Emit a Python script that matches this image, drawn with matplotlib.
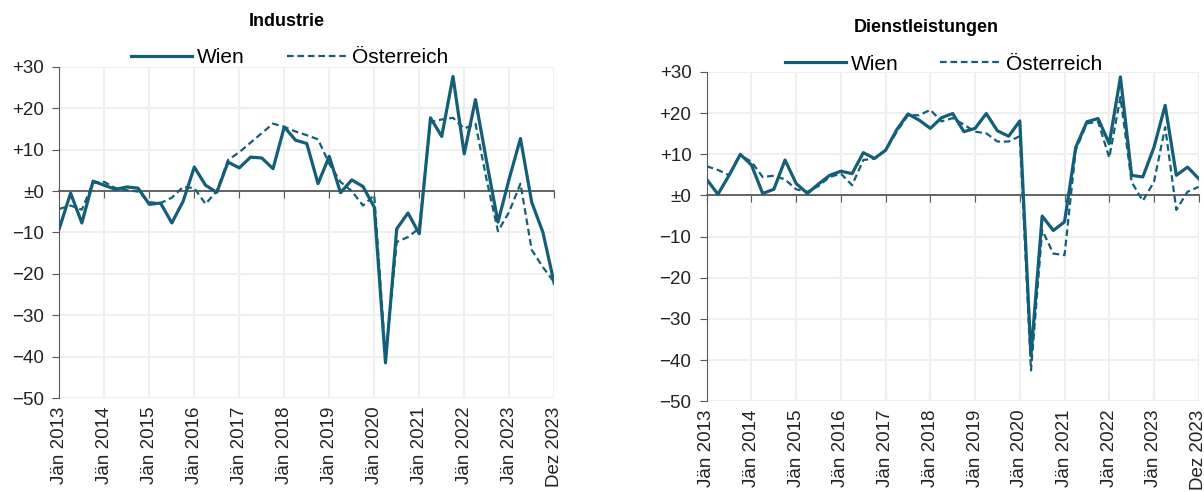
import matplotlib
matplotlib.use("Agg")
import matplotlib.pyplot as plt
import numpy as np

plt.rcParams['font.family'] = ['Liberation Sans', 'DejaVu Sans']

# quarterly values, Jän 2013 .. Dez 2023 (45 points)
ind_wien = [-9.0, -0.5, -7.7, 2.4, 1.4, 0.4, 1.0, 0.7, -3.2, -2.9, -7.7, -2.5, 5.8, 1.4, -0.3,
            7.0, 5.6, 8.2, 8.0, 5.4, 15.5, 12.3, 11.5, 1.8, 8.4, -0.4, 2.7, 1.1, -3.9,
            -41.5, -9.1, -5.3, -10.3, 17.7, 13.2, 27.7, 9.0, 22.1, 7.0, -7.5, 3.0, 12.7, -2.7, -10.0, -22.3]
ind_at = [-4.3, -3.5, -4.5, 2.0, 2.2, 0.7, 0.2, -0.1, -2.7, -2.9, -1.6, 1.0, 0.7, -3.1, 0.0,
          7.5, 9.4, 11.7, 14.0, 16.3, 15.5, 14.4, 13.5, 12.5, 6.6, 2.2, 0.0, -3.5, -1.0,
          -40.0, -12.3, -11.1, -9.0, 16.7, 17.3, 17.7, 15.1, 16.3, 2.6, -9.7, -5.0, 1.8, -14.2, -18.4, -22.0]
dl_wien = [3.9, 0.3, 4.9, 10.0, 7.4, 0.5, 1.5, 8.6, 2.9, 0.5, 2.8, 4.9, 5.9, 5.3, 10.4,
           9.0, 11.0, 16.0, 19.8, 18.3, 16.3, 18.9, 19.9, 15.5, 16.3, 19.9, 15.7, 14.4, 18.1,
           -39.0, -5.0, -8.5, -6.4, 11.7, 17.9, 18.7, 12.6, 28.8, 4.9, 4.5, 11.7, 21.9, 4.9, 6.9, 4.1]
dl_at = [7.1, 6.2, 4.9, 9.8, 8.2, 4.5, 4.8, 3.9, 1.5, 0.9, 2.3, 4.5, 5.3, 2.5, 8.6,
         9.0, 11.0, 15.5, 19.5, 19.5, 20.8, 18.0, 18.8, 17.2, 15.5, 15.1, 13.1, 13.1, 14.4,
         -42.5, -8.4, -14.1, -14.5, 11.0, 17.5, 17.9, 9.2, 23.9, 3.3, -1.3, 3.3, 16.6, -3.5, 0.9, 2.1]

tick_pos = list(range(0, 41, 4)) + [44]
tick_lab = ['Jän %d' % y for y in range(2013, 2024)] + ['Dez 2023']
y_ticks = list(range(-50, 31, 10))
y_lab = ['\u221250', '\u221240', '\u221230', '\u221220', '\u221210', '\u00b10', '+10', '+20', '+30']

col = '#145e77'
grey = '#595959'


def panel(ax, wien, at, leg_x, leg_y):
    x = np.arange(len(wien))
    ax.plot(x, wien, color=col, lw=2.3, label='Wien', zorder=3)
    ax.plot(x, at, color=col, lw=1.6, ls=(0, (3, 1.7)), label='Österreich', zorder=3)
    ax.set_xlim(0, 44)
    ax.set_ylim(-50, 30)
    ax.set_yticks(y_ticks, labels=y_lab)
    ax.set_xticks(tick_pos)
    ax.grid(color='#efefef', lw=1.5)
    ax.set_axisbelow(True)
    for s in ['top', 'right']:
        ax.spines[s].set_visible(False)
    ax.spines['left'].set_color(grey)
    ax.spines['bottom'].set_position(('data', 0))
    ax.spines['bottom'].set_color(grey)
    ax.spines['bottom'].set_linewidth(1.3)
    ax.tick_params(axis='x', direction='out', length=5, color=grey, labelbottom=False)
    ax.tick_params(axis='y', direction='out', length=5, color=grey, labelsize=13.5,
                   labelcolor='#222222', pad=6)
    sec = ax.secondary_xaxis('bottom')
    sec.set_xticks(tick_pos, labels=tick_lab, rotation=90, fontsize=13.5, color='#222222')
    sec.tick_params(length=0, pad=6)
    sec.spines['bottom'].set_visible(False)
    ax.legend(loc='center', bbox_to_anchor=(leg_x, leg_y), ncol=2, frameon=False,
              fontsize=15, handlelength=2.9, handletextpad=0.25, columnspacing=2.0,
              borderaxespad=0)


fig = plt.figure(figsize=(12.04, 4.92), dpi=100)
ax1 = fig.add_axes([0.0493, 0.191, 0.411, 0.673])
ax2 = fig.add_axes([0.587, 0.1843, 0.4086, 0.6694])
panel(ax1, ind_wien, ind_at, 0.466, 1.027)
panel(ax2, dl_wien, dl_at, 0.482, 1.024)
fig.text(0.238, 1 - 22 / 492, 'Industrie', ha='center', va='center', weight='bold', fontsize=13)
fig.text(0.769, 1 - 27 / 492, 'Dienstleistungen', ha='center', va='center', weight='bold', fontsize=13)

fig.savefig('out.png', dpi=100)
